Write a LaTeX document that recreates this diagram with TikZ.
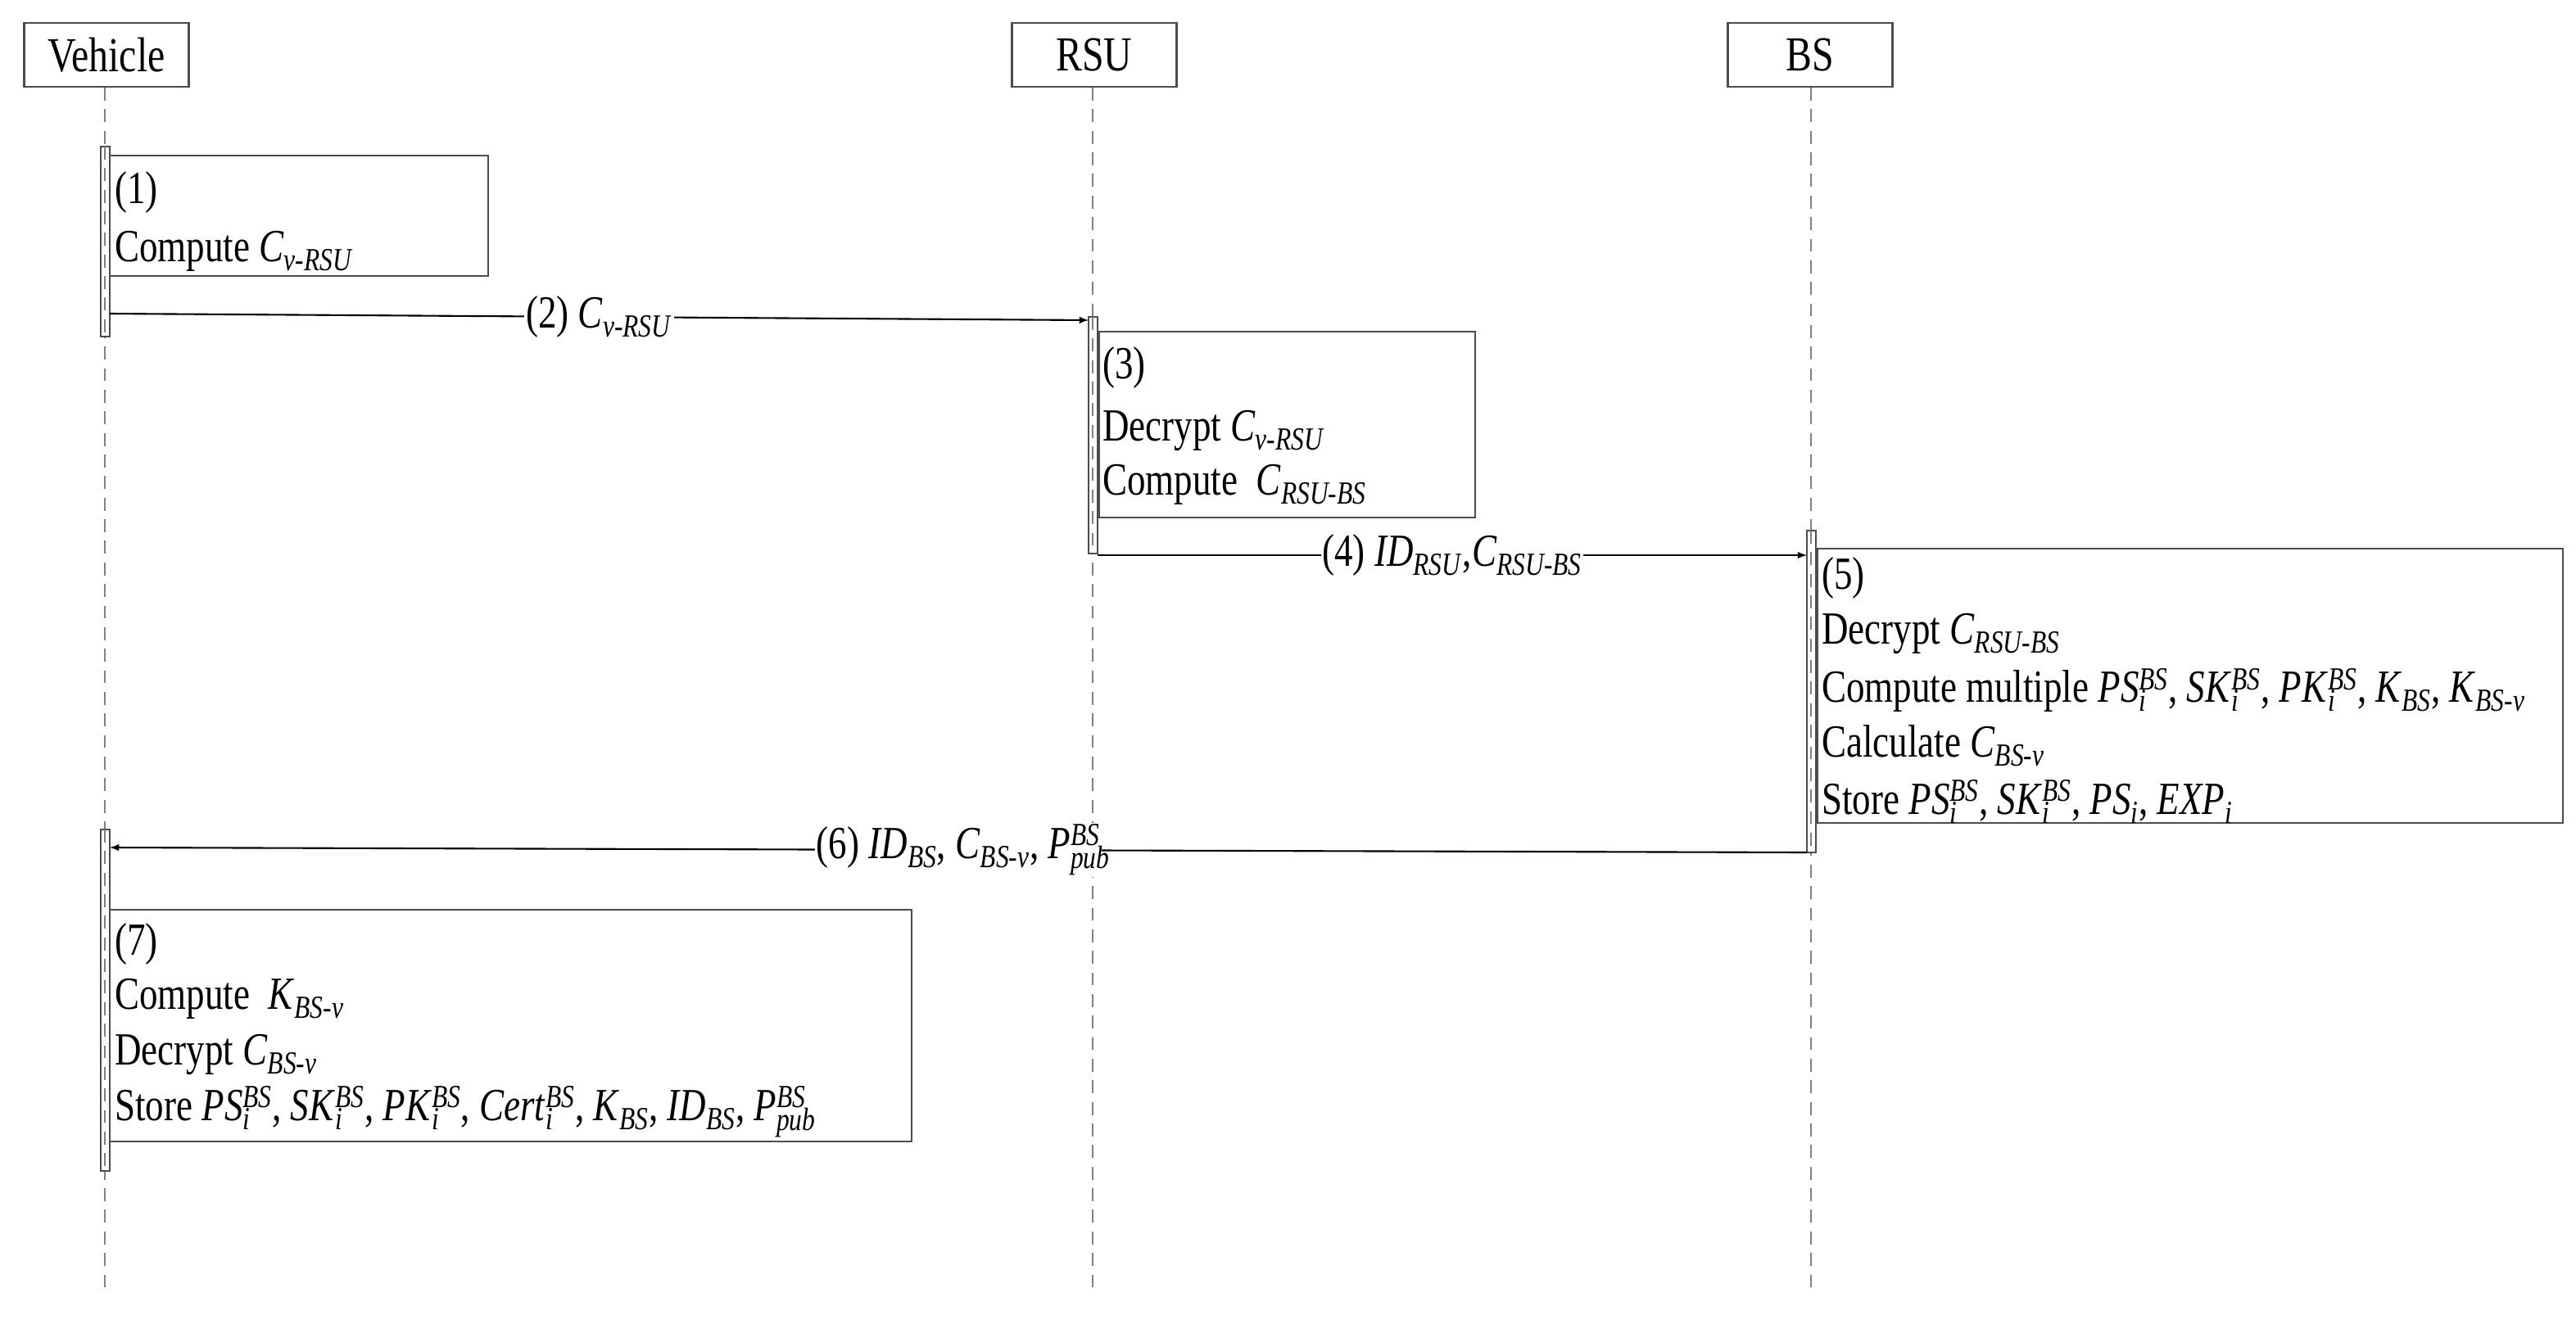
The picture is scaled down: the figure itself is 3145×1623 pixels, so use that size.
\documentclass[tikz,border=0pt]{standalone}
\usepackage{fontspec}
\setmainfont{Liberation Serif}[FakeStretch=0.8]
\usetikzlibrary{positioning}
\usetikzlibrary{calc}
% italic symbol with subscript / superscript
\newcommand{\sym}[2]{\textit{#1}\textsubscript{\textit{#2}}}
\newcommand{\symx}[3]{\textit{#1}\rlap{\textsubscript{\textit{#2}}}\textsuperscript{\textit{#3}}}

\begin{document}
\begin{tikzpicture}[x=0.02cm,y=-0.02cm,
    every node/.style={font=\fontsize{32}{40}\selectfont},
    life/.style={dashed,gray,line width=1pt,dash pattern=on 9pt off 6pt},
    bar/.style={draw=black!70,fill=white,line width=1pt},
    stepbox/.style={draw=black!70,line width=1.2pt},
    txt/.style={anchor=west,inner sep=0pt},
    msg/.style={->,>=latex,line width=1.2pt},
    lbl/.style={fill=white,inner sep=1pt}]
  \useasboundingbox (0,0) rectangle (3145,1623);
  % actors
  \begin{scope}[every node/.style={draw=black!70,line width=1.2pt,minimum width=4.02cm,minimum height=1.56cm,font=\fontsize{34}{40}\selectfont}]
    \node (veh) at (130,67) {Vehicle};
    \node (rsu) at (1336,67) {RSU};
    \node (bs) at (2210,67) {BS};
  \end{scope}
  \coordinate (vehEnd) at (128,1575);
  \coordinate (rsuEnd) at (1334,1575);
  \coordinate (bsEnd) at (2211,1575);
  \draw[life] (veh.south -| vehEnd) -- (vehEnd);
  \draw[life] (rsu.south -| rsuEnd) -- (rsuEnd);
  \draw[life] (bs.south -| bsEnd) -- (bsEnd);
  % activations
  \draw[bar] (123,179) rectangle (134,411);
  \draw[bar] (1329,387) rectangle (1340,676);
  \draw[bar] (2206,648) rectangle (2217,1041);
  \draw[bar] (123,1013) rectangle (134,1430);
  \draw[life] (128,179) -- (128,411);
  \draw[life] (1334,387) -- (1334,676);
  \draw[life] (2211,648) -- (2211,1041);
  \draw[life] (128,1013) -- (128,1430);
  % step boxes
  \draw[stepbox] (134,190) rectangle (596,337);
  \node[txt] (s1a) at (140,235) {(1)};
  \node[txt] (s1b) at (140,307) {Compute \sym{C}{v-RSU}};

  \draw[stepbox] (1342,405) rectangle (1801,632);
  \node[txt] (s3a) at (1346,449) {(3)};
  \node[txt] (s3b) at (1346,526) {Decrypt \sym{C}{v-RSU}};
  \node[txt] (s3c) at (1346,592) {Compute~ \sym{C}{RSU-BS}};

  \draw[stepbox] (2219,670) rectangle (3129,1005);
  \node[txt] (s5a) at (2224,706) {(5)};
  \node[txt] (s5b) at (2224,774) {Decrypt \sym{C}{RSU-BS}};
  \node[txt] (s5c) at (2224,843) {Compute multiple \symx{PS}{i}{BS}, \symx{SK}{i}{BS}, \symx{PK}{i}{BS}, \sym{K}{BS}, \sym{K}{BS-v}};
  \node[txt] (s5d) at (2224,911) {Calculate \sym{C}{BS-v}};
  \node[txt] (s5e) at (2224,979) {Store \symx{PS}{i}{BS}, \symx{SK}{i}{BS}, \sym{PS}{i}, \sym{EXP}{i}};

  \draw[stepbox] (134,1111) rectangle (1113,1394);
  \node[txt] (s7a) at (140,1153) {(7)};
  \node[txt] (s7b) at (140,1220) {Compute~ \sym{K}{BS-v}};
  \node[txt] (s7c) at (140,1288) {Decrypt \sym{C}{BS-v}};
  \node[txt] (s7d) at (140,1358) {Store \symx{PS}{i}{BS}, \symx{SK}{i}{BS}, \symx{PK}{i}{BS}, \symx{Cert}{i}{BS}, \sym{K}{BS}, \sym{ID}{BS}, \symx{P}{pub}{BS}};
  % messages
  \coordinate (m2a) at (134,383);
  \coordinate (m2b) at (1329,391);
  \draw[msg] (m2a) -- node[lbl] {(2) \sym{C}{v-RSU}} (m2b);
  \coordinate (m4a) at (1340,678);
  \coordinate (m4b) at (2206,678);
  \draw[msg] (m4a) -- node[lbl] {(4) \sym{ID}{RSU},\sym{C}{RSU-BS}} (m4b);
  \coordinate (m6a) at (2206,1041);
  \coordinate (m6b) at (134,1035);
  \draw[msg] (m6a) -- node[lbl] {(6) \sym{ID}{BS}, \sym{C}{BS-v}, \symx{P}{pub}{BS}} (m6b);
\end{tikzpicture}
\end{document}
